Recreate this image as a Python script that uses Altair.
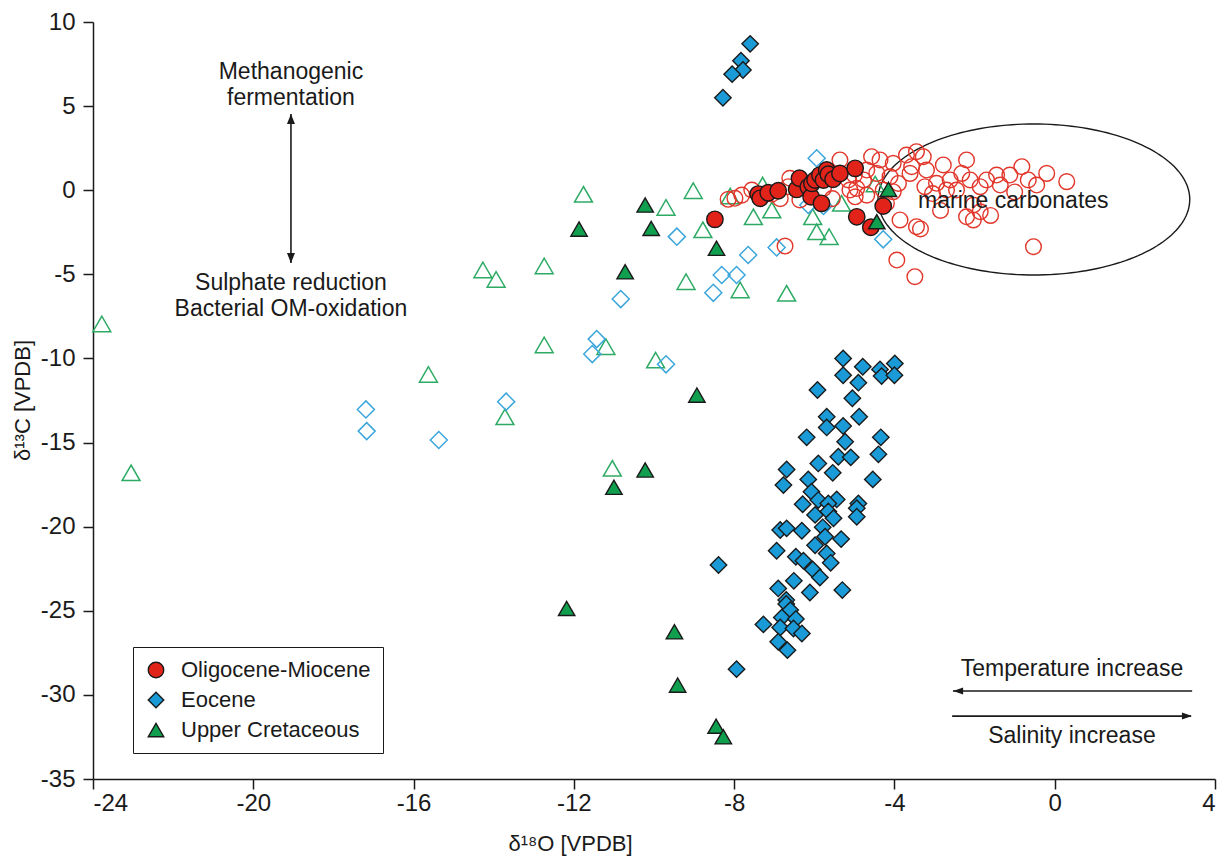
import altair as alt
import numpy as np
import pandas as pd

FONT = "Liberation Sans"
INK = "#1a1a1a"

# ---------------- sample data (d18O, d13C in per mil VPDB) ----------------
# Oligocene-Miocene carbonates
om_d18o = [-8.48, -7.40, -7.35, -7.15, -6.90, -6.44, -6.37, -6.15, -6.08, -6.06, -5.98,
           -5.86, -5.82, -5.77, -5.69, -5.65, -5.53, -5.36, -4.98, -4.94, -4.59, -4.28]
om_d13c = [-1.73, -0.23, -0.48, -0.15, -0.03, 0.05, 0.71, 0.20, -0.39, 0.41, 0.61,
           0.90, -0.78, 0.61, 1.20, 0.95, 0.65, 1.00, 1.30, -1.58, -2.20, -0.94]

# Eocene carbonates
eo_d18o = [-7.60, -7.83, -7.78, -8.05, -8.28,
           -5.28, -4.79, -4.36, -3.99, -5.28, -4.90, -4.32, -4.00, -5.92, -5.05, -5.69,
           -4.88, -5.69, -5.28, -6.19, -5.23, -4.34, -5.40, -5.09, -4.40, -5.90, -5.54,
           -6.69, -6.77, -6.15, -4.54, -6.07, -5.90, -5.44, -6.29, -5.65, -4.90, -4.94,
           -5.98, -5.65, -5.52, -4.94, -6.85, -6.69, -6.31, -5.79, -5.73, -5.33, -6.94,
           -5.98, -6.46, -5.69, -6.27, -5.59, -6.04, -5.86, -8.39, -6.51, -6.90, -6.11,
           -5.30, -6.70, -6.70, -6.60, -6.81, -6.46, -7.27, -6.85, -6.52, -6.31, -6.90,
           -6.67, -7.94]
eo_d13c = [8.70, 7.70, 7.15, 6.90, 5.50,
           -10.00, -10.49, -10.65, -10.30, -11.00, -11.44, -11.05, -11.00, -11.88, -12.37, -13.47,
           -13.47, -14.10, -14.02, -14.69, -14.95, -14.69, -15.84, -15.88, -15.70, -16.24, -16.80,
           -16.60, -17.53, -17.19, -17.19, -17.92, -18.42, -18.38, -18.67, -18.62, -18.62, -18.90,
           -19.30, -19.10, -19.50, -19.41, -20.20, -20.10, -20.24, -20.04, -20.60, -20.74, -21.43,
           -21.10, -21.79, -21.59, -22.03, -22.15, -22.54, -23.02, -22.28, -23.22, -23.67, -23.91,
           -23.77, -24.36, -24.60, -24.96, -25.40, -25.49, -25.81, -25.99, -26.05, -26.35, -26.84,
           -27.34, -28.47]

# Upper Cretaceous carbonates
uc_d18o = [-10.22, -11.87, -10.07, -10.72, -8.93, -10.22, -11.00, -12.18, -9.49, -9.41,
           -8.45, -8.27, -8.44, -4.15, -4.44]
uc_d13c = [-0.88, -2.31, -2.27, -4.85, -12.18, -16.63, -17.66, -24.86, -26.25, -29.42,
           -31.86, -32.49, -3.45, 0.05, -1.87]

# Published comparison data (open symbols)
lit_marine_d18o = [-7.98, -8.15, -7.81, -7.56, -7.06, -6.61, -6.65, -6.36, -6.19, -5.36, -5.15,
                   -5.11, -4.94, -4.98, -4.77, -4.69, -4.57, -4.36, -4.11, -4.03, -3.70, -3.57,
                   -3.45, -3.28, -3.20, -3.24, -2.78, -2.61, -2.70, -2.20, -2.32, -2.11, -1.86,
                   -2.03, -2.20, -2.03, -1.86, -1.70, -1.45, -1.36, -1.12, -0.82, -0.66, -0.45,
                   0.30, -0.53, -3.86, -3.94, -3.45, -3.49, -4.28, -4.20, -6.73, -5.77, -4.69,
                   -4.44, -4.03, -3.61, -2.95, -2.45, -3.35, -3.05, -2.85, -1.60, -1.00, -0.20,
                   -5.55, -5.00, -3.90, -6.85]
lit_marine_d13c = [-0.48, -0.54, -0.29, 0.01, -0.23, 0.71, 0.21, -0.58, 0.11, 1.80, 0.61,
                   0.01, 0.11, -0.39, 0.61, -0.29, 1.99, 1.80, 0.80, -0.09, 2.09, 1.40,
                   2.29, 1.99, 1.20, 0.21, 1.50, 0.61, 0.01, 1.80, 1.00, 0.61, 0.21,
                   -0.88, -1.58, -1.77, -1.28, 0.61, 0.90, 0.31, 0.90, 1.40, 0.61, 0.31,
                   0.51, -3.36, -1.77, -4.15, -2.17, -5.14, 0.01, -0.78, -3.32, 0.11, 1.20,
                   1.00, 1.60, 1.00, 0.41, 0.01, -2.30, -0.20, -1.20, -1.50, -0.10, 1.00,
                   -0.50, 0.90, 0.40, -0.50]

lit_eocene_d18o = [-9.43, -10.83, -11.43, -11.54, -9.70, -13.69, -17.19, -17.17, -15.37,
                   -5.94, -6.15, -5.77, -4.28, -6.94, -7.65, -8.31, -7.94, -8.52]
lit_eocene_d13c = [-2.76, -6.47, -8.85, -9.74, -10.35, -12.57, -13.03, -14.32, -14.85,
                   1.90, -0.88, -0.94, -2.92, -3.40, -3.85, -5.04, -5.04, -6.10]

lit_cret_d18o = [-11.76, -9.70, -9.02, -8.78, -14.27, -13.94, -12.74, -9.20, -12.74, -11.20,
                 -9.96, -15.63, -23.78, -23.05, -13.72, -11.04, -8.10, -7.29, -7.52, -7.06,
                 -6.04, -5.94, -5.63, -5.32, -4.48, -7.85, -6.69]
lit_cret_d13c = [-0.24, -1.02, -0.03, -2.35, -4.74, -5.30, -4.50, -5.44, -9.20, -9.30,
                 -10.10, -10.95, -7.95, -16.80, -13.47, -16.53, -0.35, 0.31, -1.58, -1.18,
                 -1.58, -2.47, -2.76, -0.78, 0.37, -5.93, -6.13]

periods = ["Oligocene-Miocene", "Eocene", "Upper Cretaceous"]
period_fill = ["#E2231A", "#1A9BD7", "#109E4F"]
period_shape = ["circle", "diamond", "triangle-up"]

# "marine carbonates" field outline
ellipse_center = (-0.52, -0.55)
ellipse_radii = (3.89, 4.49)

# ---------------- tables ----------------
def table(xs, ys, **extra):
    df = pd.DataFrame({"d18O": xs, "d13C": ys})
    for k, v in extra.items():
        df[k] = v
    return df

filled_df = pd.concat([
    table(om_d18o, om_d13c, period=periods[0], rank=0),
    table(eo_d18o, eo_d13c, period=periods[1], rank=1),
    table(uc_d18o, uc_d13c, period=periods[2], rank=2),
], ignore_index=True)

t = np.linspace(0, 2 * np.pi, 181)
ellipse_df = pd.DataFrame({
    "d18O": ellipse_center[0] + ellipse_radii[0] * np.cos(t),
    "d13C": ellipse_center[1] + ellipse_radii[1] * np.sin(t),
    "i": np.arange(len(t)),
})

# ---------------- encodings ----------------
x_scale = alt.Scale(domain=[-24, 4], nice=False, zero=False)
y_scale = alt.Scale(domain=[-35, 10], nice=False, zero=False)

# plain hyphen-minus in tick labels
plain_minus = "toString(datum.value)"

x_enc = alt.X("d18O:Q", scale=x_scale, axis=alt.Axis(
    values=list(range(-24, 5, 4)), title="δ¹⁸O [VPDB]", labelPadding=2, labelExpr=plain_minus,
    titleX=477, titleY=64, titleAlign="center", titleBaseline="middle"))
y_enc = alt.Y("d13C:Q", scale=y_scale, axis=alt.Axis(
    values=list(range(-35, 11, 5)), title="δ¹³C [VPDB]", labelPadding=8, labelExpr=plain_minus,
    titleX=-71, titleY=378, titleAngle=-90, titleAlign="center", titleBaseline="middle"))

base_w, base_h = 1122, 757

ellipse = alt.Chart(ellipse_df).mark_line(color=INK, strokeWidth=1.4).encode(
    x=x_enc, y=y_enc, order="i:Q")

open_tri = alt.Chart(table(lit_cret_d18o, lit_cret_d13c)).mark_point(
    shape="triangle-up", filled=False, stroke="#2DAA64", strokeWidth=1.5, size=320, opacity=1
).encode(x=x_enc, y=y_enc)

open_dia = alt.Chart(table(lit_eocene_d18o, lit_eocene_d13c)).mark_point(
    shape="diamond", filled=False, stroke="#3AA6DB", strokeWidth=1.5, size=290, opacity=1
).encode(x=x_enc, y=y_enc)

open_circ = alt.Chart(table(lit_marine_d18o, lit_marine_d13c)).mark_point(
    shape="circle", filled=False, stroke="#E2362A", strokeWidth=1.4, size=245, opacity=1
).encode(x=x_enc, y=y_enc)

legend = alt.Legend(
    title=None, orient="none", legendX=40, legendY=625, direction="vertical",
    labelFont=FONT, labelFontSize=22, labelColor=INK, labelOffset=14, labelLimit=400,
    symbolSize=240, symbolStrokeColor=INK, symbolStrokeWidth=1.4,
    strokeColor=INK, fillColor="white", padding=12, rowPadding=8)

filled = alt.Chart(filled_df).mark_point(
    filled=True, stroke=INK, strokeWidth=1.4, size=270, opacity=1
).encode(
    x=x_enc, y=y_enc,
    color=alt.Color("period:N", scale=alt.Scale(domain=periods, range=period_fill), legend=legend),
    shape=alt.Shape("period:N", scale=alt.Scale(domain=periods, range=period_shape), legend=legend),
    order=alt.Order("rank:Q"),
)

# ---------------- annotations ----------------
notes_df = pd.DataFrame({
    "d18O": [-19.06, -19.06, -19.06, -19.06, -3.41, 0.43, 0.43],
    "d13C": [6.61, 5.07, -5.93, -7.48, -1.06, -28.88, -32.87],
    "label": ["Methanogenic", "fermentation", "Sulphate reduction", "Bacterial OM-oxidation",
              "marine carbonates", "Temperature increase", "Salinity increase"],
    "align": ["center", "center", "center", "center", "left", "center", "center"],
})
notes_c = alt.Chart(notes_df[notes_df["align"] == "center"]).mark_text(
    font=FONT, fontSize=23, color=INK, align="center", baseline="alphabetic"
).encode(x=x_enc, y=y_enc, text="label:N")
notes_l = alt.Chart(notes_df[notes_df["align"] == "left"]).mark_text(
    font=FONT, fontSize=23, color=INK, align="left", baseline="alphabetic"
).encode(x=x_enc, y=y_enc, text="label:N")

# arrow shafts
shafts_df = pd.DataFrame({
    "d18O": [-19.06, -2.54, -2.56],
    "d13C": [4.53, -29.77, -31.26],
    "x2": [-19.06, 3.43, 3.40],
    "y2": [-4.33, -29.77, -31.26],
})
shafts = alt.Chart(shafts_df).mark_rule(color=INK, strokeWidth=1.6).encode(
    x=x_enc, y=y_enc, x2="x2:Q", y2="y2:Q")

# arrow heads
heads_df = pd.DataFrame({
    "d18O": [-19.06, -19.06, -2.41, 3.30],
    "d13C": [4.23, -4.03, -29.77, -31.26],
    "head": ["up", "down", "left", "right"],
})
head_paths = {
    "up": "M0,-1L-0.8,1L0.8,1Z",
    "down": "M0,1L-0.8,-1L0.8,-1Z",
    "left": "M-1,0L1,-0.7L1,0.7Z",
    "right": "M1,0L-1,-0.7L-1,0.7Z",
}
head_layers = [
    alt.Chart(heads_df[heads_df["head"] == k]).mark_point(
        shape=p, filled=True, color=INK, size=100, opacity=1, strokeWidth=0
    ).encode(x=x_enc, y=y_enc)
    for k, p in head_paths.items()
]

chart = alt.layer(
    ellipse, open_tri, open_dia, open_circ, filled, shafts, *head_layers, notes_c, notes_l
).properties(
    width=base_w, height=base_h,
    padding={"left": 93, "top": 22, "right": 13, "bottom": 77},
    autosize=alt.AutoSizeParams(type="none"),
    background="white",
).configure_axis(
    grid=False, domainColor=INK, domainWidth=1.5, tickColor=INK, tickWidth=1.5, tickSize=10,
    labelFont=FONT, labelFontSize=24, labelColor=INK,
    titleFont=FONT, titleFontSize=22, titleFontWeight="normal", titleColor=INK,
).configure_view(stroke=None)

chart.save("out.html", embed_options={"renderer": "svg", "actions": False})
